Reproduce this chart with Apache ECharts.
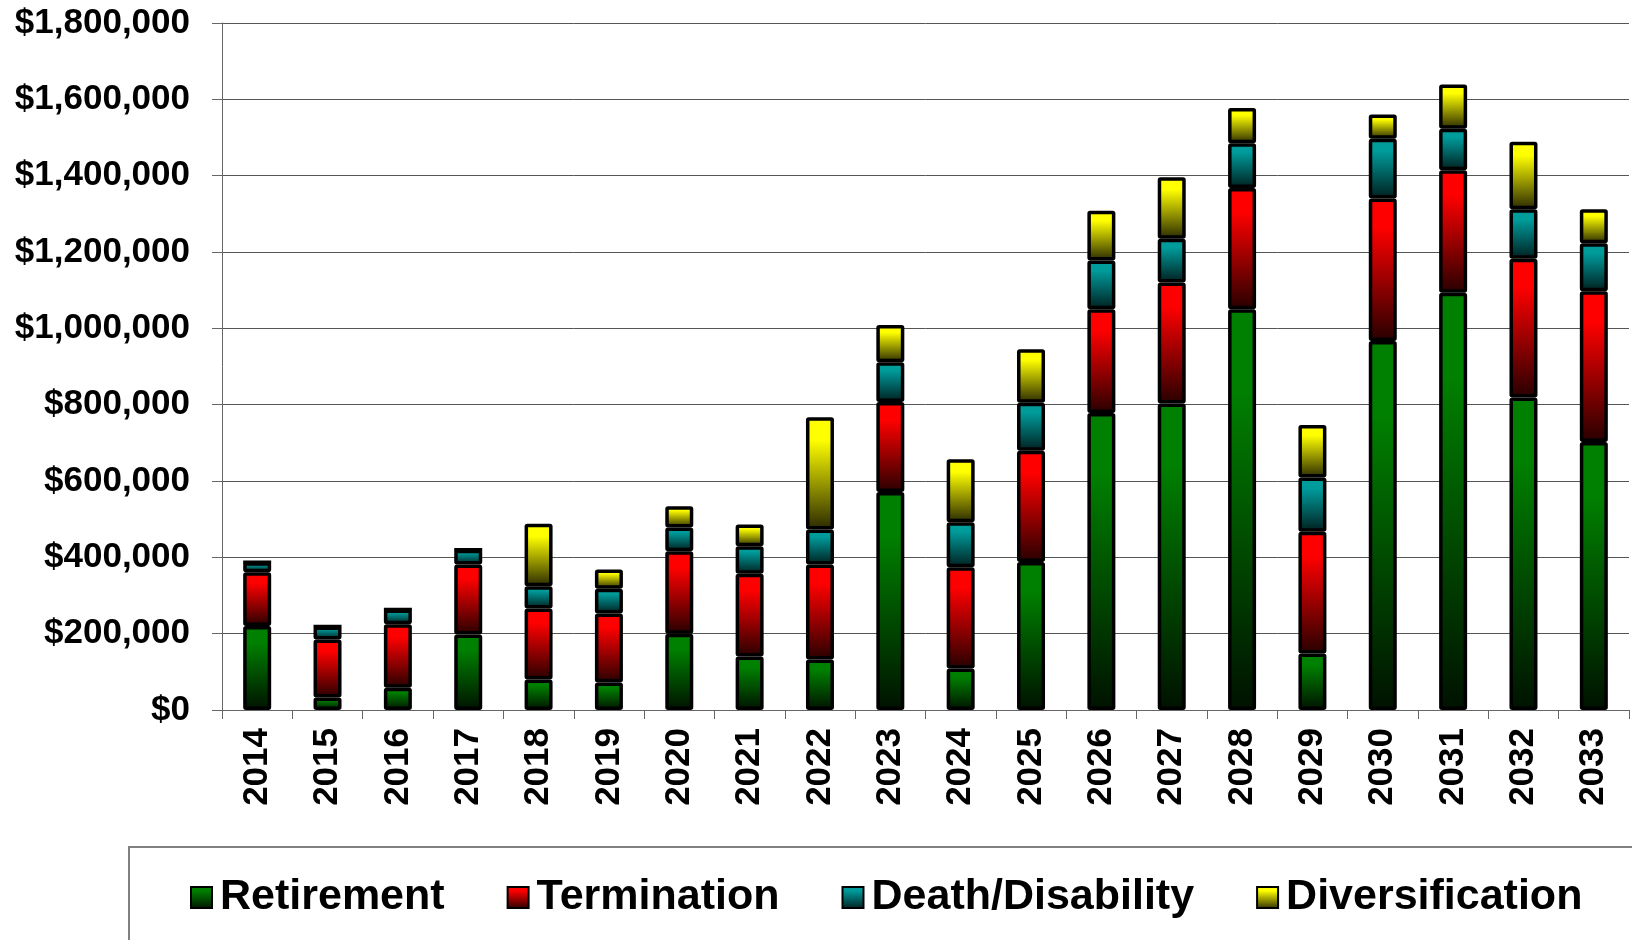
<!DOCTYPE html>
<html>
<head>
<meta charset="utf-8">
<script src="https://cdn.jsdelivr.net/npm/echarts@6/dist/echarts.min.js"></script>
<style>
  html, body { margin: 0; padding: 0; background: #fff; }
  #chart { width: 1632px; height: 940px; }
</style>
</head>
<body>
<div id="chart"></div>
<script>
// categories and values
const years = ['2014', '2015', '2016', '2017', '2018', '2019', '2020', '2021', '2022', '2023',
               '2024', '2025', '2026', '2027', '2028', '2029', '2030', '2031', '2032', '2033'];
const retirement = [220000, 33000, 58000, 198000, 80000, 72000, 200000, 140000, 132000, 571000,
                    109000, 388000, 778000, 803000, 1050000, 148000, 967000, 1093000, 819000, 702000];
const termination = [141000, 152000, 167000, 183000, 186000, 181000, 216000, 217000, 249000, 236000,
                     265000, 291000, 272000, 317000, 318000, 319000, 373000, 321000, 363000, 395000];
const deathDisability = [26000, 34000, 38000, 39000, 58000, 65000, 62000, 72000, 92000, 104000,
                         118000, 126000, 128000, 115000, 117000, 142000, 157000, 109000, 130000, 126000];
const diversification = [0, 0, 0, 0, 164000, 50000, 56000, 57000, 294000, 98000,
                         165000, 140000, 130000, 161000, 92000, 138000, 63000, 116000, 177000, 89000];

const FONT = '"Liberation Sans", Arial, sans-serif';

function grad(top, bottom) {
  return new echarts.graphic.LinearGradient(0, 0, 0, 1, [
    { offset: 0, color: top },
    { offset: 0.2, color: top },
    { offset: 1, color: bottom }
  ]);
}

const seriesDefs = [
  { name: 'Retirement', data: retirement, top: '#008000', bottom: '#001200' },
  { name: 'Termination', data: termination, top: '#ff0000', bottom: '#280000' },
  { name: 'Death/Disability', data: deathDisability, top: '#009c9c', bottom: '#001f1f' },
  { name: 'Diversification', data: diversification, top: '#ffff00', bottom: '#2a2a00' }
];

const chart = echarts.init(document.getElementById('chart'));
chart.setOption({
  animation: false,
  backgroundColor: '#fff',
  grid: { left: 222, right: 3, top: 23, bottom: 230, containLabel: false },
  graphic: [{
    type: 'rect',
    shape: { x: 129, y: 847, width: 1600, height: 200 },
    style: { fill: 'none', stroke: '#808080', lineWidth: 2 },
    z: -1
  }],
  legend: {
    left: 185,
    top: 871,
    itemWidth: 21,
    itemHeight: 21,
    itemGap: 62,
    icon: 'rect',
    data: seriesDefs.map(s => s.name),
    itemStyle: { borderColor: '#000', borderWidth: 2 },
    textStyle: { fontFamily: FONT, fontWeight: 'bold', fontSize: 43, color: '#000', padding: [0, 0, 0, 3] }
  },
  xAxis: {
    type: 'category',
    data: years,
    axisLine: { lineStyle: { color: '#666', width: 1 } },
    axisTick: { show: true, length: 9, interval: 0, lineStyle: { color: '#666' } },
    axisLabel: {
      rotate: 90, margin: 18, interval: 0,
      fontFamily: FONT, fontWeight: 'bold', fontSize: 35, color: '#000'
    }
  },
  yAxis: {
    type: 'value',
    min: 0,
    max: 1800000,
    interval: 200000,
    axisLine: { show: true, lineStyle: { color: '#666' } },
    axisTick: { show: true, length: 10, inside: false, lineStyle: { color: '#666' } },
    splitLine: { lineStyle: { color: '#555', width: 1 } },
    axisLabel: {
      margin: 32,
      fontFamily: FONT, fontWeight: 'bold', fontSize: 35, color: '#000',
      formatter: v => '$' + v.toLocaleString('en-US')
    }
  },
  series: seriesDefs.map(s => ({
    name: s.name,
    type: 'bar',
    stack: 'total',
    barWidth: 28,
    data: s.data,
    itemStyle: { color: grad(s.top, s.bottom), borderColor: '#000', borderWidth: 3.5, borderRadius: 1 }
  }))
});
</script>
</body>
</html>
